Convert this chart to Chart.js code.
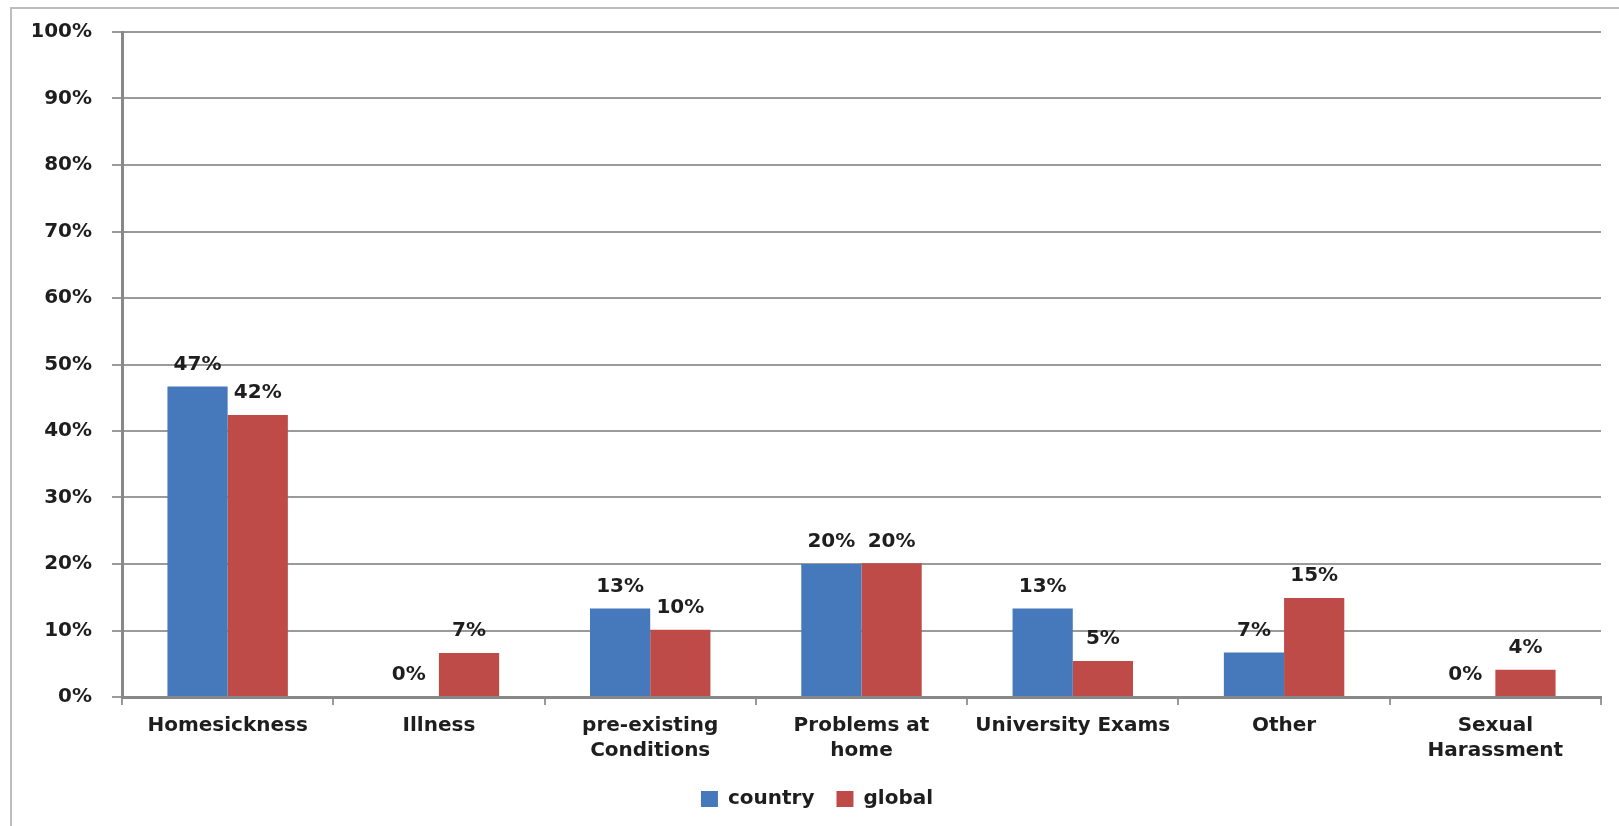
<!DOCTYPE html>
<html>
<head>
<meta charset="utf-8">
<script src="https://cdn.jsdelivr.net/npm/chart.js@4.4.0/dist/chart.umd.min.js"></script>
<style>
html,body{margin:0;padding:0;background:#fff;overflow:hidden;}
#wrap{position:relative;width:1619px;height:826px;}
#frame{position:absolute;left:10px;top:7px;width:1700px;height:900px;border-left:2px solid #bdbdbd;border-top:2px solid #bdbdbd;box-sizing:border-box;}
canvas{position:absolute;left:0;top:0;}
</style>
</head>
<body>
<div id="wrap">
<div id="frame"></div>
<canvas id="c" width="1619" height="826"></canvas>
</div>
<script>
const categories = ["Homesickness", "Illness", ["pre-existing", "Conditions"], ["Problems at", "home"], "University Exams", "Other", ["Sexual", "Harassment"]];
const countryValues = [46.7, 0, 13.3, 20, 13.3, 6.7, 0];
const globalValues = [42.4, 6.6, 10.1, 20.1, 5.4, 14.9, 4.1];
const yTicks = [0, 10, 20, 30, 40, 50, 60, 70, 80, 90, 100];

const FONT = "'DejaVu Sans', Verdana, sans-serif";
const TXT = '#1e1e1e';

const labelPlugin = {
  id: 'barLabels',
  afterDatasetsDraw(chart) {
    const ctx = chart.ctx;
    ctx.save();
    ctx.font = 'bold 20px ' + FONT;
    ctx.fillStyle = TXT;
    ctx.textAlign = 'center';
    ctx.textBaseline = 'middle';
    chart.data.datasets.forEach((ds, i) => {
      const meta = chart.getDatasetMeta(i);
      meta.data.forEach((bar, j) => {
        ctx.fillText(Math.round(ds.data[j]) + '%', bar.x, bar.y - 22);
      });
    });
    ctx.restore();
  }
};

new Chart(document.getElementById('c'), {
  type: 'bar',
  data: {
    labels: categories,
    datasets: [
      { label: 'country', data: countryValues, backgroundColor: '#4679BB' },
      { label: 'global', data: globalValues, backgroundColor: '#BE4B48' }
    ]
  },
  options: {
    responsive: false,
    animation: false,
    devicePixelRatio: 1,
    layout: { padding: { left: 33, right: 18, top: 32, bottom: 7 } },
    datasets: { bar: { categoryPercentage: 0.57, barPercentage: 1.0 } },
    plugins: {
      legend: {
        position: 'bottom',
        labels: {
          font: { family: FONT, size: 20, weight: 'bold' },
          color: TXT,
          boxWidth: 17,
          boxHeight: 16,
          padding: 22
        }
      },
      tooltip: { enabled: false }
    },
    scales: {
      x: {
        afterFit(s) { s.height = 70; },
        grid: { display: true, drawOnChartArea: false, drawTicks: true, tickLength: 8, color: '#999', lineWidth: 2 },
        border: { display: true, color: '#888', width: 3 },
        ticks: { font: { family: FONT, size: 20, weight: 'bold', lineHeight: 1.25 }, color: TXT, padding: 8, maxRotation: 0, autoSkip: false }
      },
      y: {
        min: 0, max: 100,
        afterFit(s) { s.width = 89; },
        afterBuildTicks(s) { s.ticks = yTicks.map(v => ({ value: v })); },
        grid: { color: '#9a9a9a', lineWidth: 2, tickLength: 10 },
        border: { display: true, color: '#888', width: 3 },
        ticks: { font: { family: FONT, size: 20, weight: 'bold' }, color: TXT, padding: 20, callback: v => v + '%' }
      }
    }
  },
  plugins: [labelPlugin]
});
</script>
</body>
</html>
